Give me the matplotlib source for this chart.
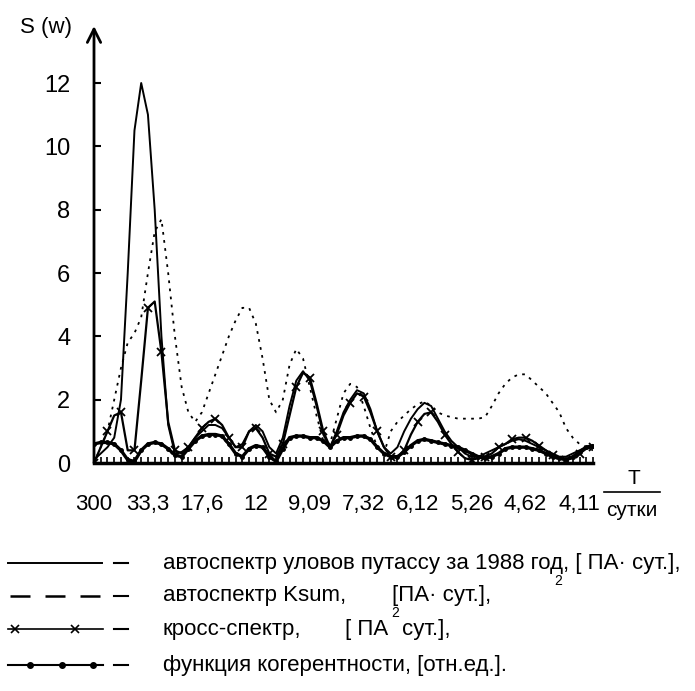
import matplotlib
matplotlib.use("Agg")
import matplotlib.pyplot as plt
from matplotlib.lines import Line2D
import numpy as np

plt.rcParams['font.family'] = ['Liberation Sans Narrow', 'Liberation Sans', 'DejaVu Sans']

# frequency index (period = 300 / k days)
k = np.arange(1, 76)

tick_k = [1, 9, 17, 25, 33, 41, 49, 57, 65, 73]
tick_labels = ['300', '33,3', '17,6', '12', '9,09', '7,32', '6,12', '5,26', '4,62', '4,11']

# autospectrum of catches, 1988
catch = [0.1, 0.3, 0.5, 0.8, 2.0, 6.0, 10.5, 12.0, 11.0, 8.0,
         4.0, 1.2, 0.3, 0.35, 0.5, 0.8, 1.0, 1.2, 1.2, 1.1,
         0.8, 0.5, 0.6, 1.0, 1.2, 1.0, 0.5, 0.3, 0.8, 1.8,
         2.6, 2.9, 2.6, 1.8, 0.9, 0.5, 1.0, 1.6, 2.0, 2.3,
         2.2, 1.7, 1.0, 0.5, 0.3, 0.5, 1.0, 1.4, 1.7, 1.9,
         1.8, 1.4, 1.0, 0.7, 0.5, 0.3, 0.2, 0.2, 0.3, 0.4,
         0.5, 0.6, 0.7, 0.75, 0.7, 0.6, 0.5, 0.4, 0.3, 0.2,
         0.2, 0.3, 0.4, 0.5, 0.5]

# autospectrum Ksum
ksum = [0.0, 0.5, 1.0, 2.0, 3.0, 3.8, 4.1, 4.6, 6.0, 7.3,
        7.7, 6.0, 4.0, 2.4, 1.6, 1.3, 1.6, 2.2, 2.8, 3.4,
        4.0, 4.5, 4.9, 4.9, 4.4, 3.3, 2.0, 1.6, 2.0, 3.1,
        3.6, 3.3, 2.4, 1.5, 0.7, 0.6, 1.4, 2.2, 2.5, 2.4,
        1.8, 1.1, 0.5, 0.3, 1.0, 1.3, 1.5, 1.7, 1.85, 1.95,
        1.8, 1.6, 1.5, 1.45, 1.4, 1.4, 1.4, 1.4, 1.45, 1.8,
        2.2, 2.5, 2.7, 2.8, 2.8, 2.6, 2.4, 2.2, 1.9, 1.6,
        1.1, 0.8, 0.6, 0.5, 0.4]

# cross-spectrum
cross = [0.0, 0.5, 1.0, 1.5, 1.6, 0.4, 0.4, 2.6, 4.9, 5.1,
         3.5, 1.3, 0.4, 0.3, 0.5, 0.8, 1.1, 1.3, 1.4, 1.2,
         0.8, 0.5, 0.5, 1.0, 1.1, 0.8, 0.3, 0.2, 0.6, 1.5,
         2.4, 2.85, 2.7, 1.9, 1.0, 0.5, 0.9, 1.5, 1.9, 2.2,
         2.1, 1.6, 1.0, 0.5, 0.2, 0.15, 0.4, 0.9, 1.3, 1.55,
         1.6, 1.3, 0.9, 0.6, 0.35, 0.15, 0.1, 0.15, 0.2, 0.3,
         0.5, 0.6, 0.75, 0.8, 0.8, 0.7, 0.55, 0.4, 0.25, 0.15,
         0.1, 0.15, 0.3, 0.45, 0.5]

# coherence function
coher = [0.6, 0.65, 0.65, 0.6, 0.4, 0.1, 0.05, 0.4, 0.6, 0.65,
         0.6, 0.45, 0.25, 0.2, 0.45, 0.7, 0.85, 0.9, 0.9, 0.85,
         0.6, 0.3, 0.2, 0.45, 0.55, 0.5, 0.2, 0.05, 0.45, 0.8,
         0.85, 0.85, 0.8, 0.8, 0.7, 0.5, 0.7, 0.8, 0.8, 0.85,
         0.85, 0.75, 0.5, 0.3, 0.2, 0.2, 0.35, 0.55, 0.7, 0.75,
         0.7, 0.65, 0.6, 0.55, 0.5, 0.4, 0.3, 0.2, 0.15, 0.2,
         0.3, 0.45, 0.5, 0.5, 0.5, 0.45, 0.4, 0.3, 0.2, 0.15,
         0.1, 0.2, 0.35, 0.5, 0.55]

W, H = 695, 691
fig = plt.figure(figsize=(W / 100, H / 100), dpi=100)


def fx(px):
    return px / W


def fy(py):
    return 1 - py / H


ax = fig.add_axes([fx(94), fy(463), fx(593) - fx(94), fy(26) - fy(463)])
ax.set_xlim(1, 75)
ax.set_ylim(0, 13.8)

ax.plot(k, catch, color='black', lw=1.4)
ax.plot(k, ksum, color='black', lw=1.3, linestyle=(0, (1.5, 3)))
ax.plot(k, cross, color='black', lw=1.6, marker='x', markersize=6, markeredgewidth=1.3, markevery=2)
ax.plot(k, coher, color='black', lw=2.4, marker='o', markersize=2.5)

for s in ['top', 'right', 'left']:
    ax.spines[s].set_visible(False)
ax.spines['bottom'].set_linewidth(2.5)

ax.annotate('', xy=(0, 1.0), xycoords='axes fraction', xytext=(0, 0),
            arrowprops=dict(arrowstyle='->', lw=2, color='black', mutation_scale=24,
                            shrinkA=0, shrinkB=0))

ax.set_yticks([0, 2, 4, 6, 8, 10, 12])
ax.set_yticklabels(['0', '2', '4', '6', '8', '10', '12'])
ax.tick_params(axis='y', direction='in', length=5, width=1.5, pad=17, labelsize=17)

ax.set_xticks(k)
ax.set_xticklabels([tick_labels[tick_k.index(v)] if v in tick_k else '' for v in k])
ax.tick_params(axis='x', direction='in', length=4, width=1.2, pad=22, labelsize=16)

fig.text(fx(20), fy(27), 'S (w)', fontsize=16, va='center', ha='left')

# T / сутки
fig.text(fx(634), fy(479), 'T', fontsize=15, ha='center', va='center')
fig.add_artist(Line2D([fx(604), fx(660)], [fy(492), fy(492)], color='black', lw=1.2))
fig.text(fx(632), fy(510), 'сутки', fontsize=15, ha='center', va='center')

# legend drawn by hand
rows = [563, 596, 629, 665]
fig.add_artist(Line2D([fx(8), fx(102)], [fy(rows[0])] * 2, color='black', lw=1.4))
fig.add_artist(Line2D([fx(10), fx(100)], [fy(rows[1])] * 2, color='black', lw=1.8,
                      linestyle=(0, (8, 6))))
fig.add_artist(Line2D([fx(8), fx(103)], [fy(rows[2])] * 2, color='black', lw=1.2))
fig.add_artist(Line2D([fx(15), fx(75)], [fy(rows[2])] * 2, color='black', lw=0,
                      marker='x', markersize=6, markeredgewidth=1.2))
fig.add_artist(Line2D([fx(8), fx(103)], [fy(rows[3])] * 2, color='black', lw=1.5))
fig.add_artist(Line2D([fx(30), fx(62), fx(93)], [fy(rows[3])] * 3, color='black', lw=0,
                      marker='o', markersize=4))

legend_texts = [
    'автоспектр уловов путассу за 1988 год, [ ПА· сут.],',
    'автоспектр Ksum,',
    'кросс-спектр,',
    'функция когерентности, [отн.ед.].',
]
for py, t in zip(rows, legend_texts):
    fig.add_artist(Line2D([fx(114), fx(128)], [fy(py)] * 2, color='black', lw=1.5))
    fig.text(fx(163), fy(py), t, fontsize=16, va='center', ha='left')

fig.text(fx(392), fy(rows[1]), '[ПА· сут.],', fontsize=16, va='center', ha='left')
fig.text(fx(388), fy(rows[2]), '[ ПА', fontsize=16, va='center', ha='right')
fig.text(fx(402), fy(rows[2]), 'сут.],', fontsize=16, va='center', ha='left')
fig.text(fx(558), fy(581), '2', fontsize=10, ha='center', va='center')
fig.text(fx(395), fy(613), '2', fontsize=10, ha='center', va='center')

fig.savefig('out.png', dpi=100)
